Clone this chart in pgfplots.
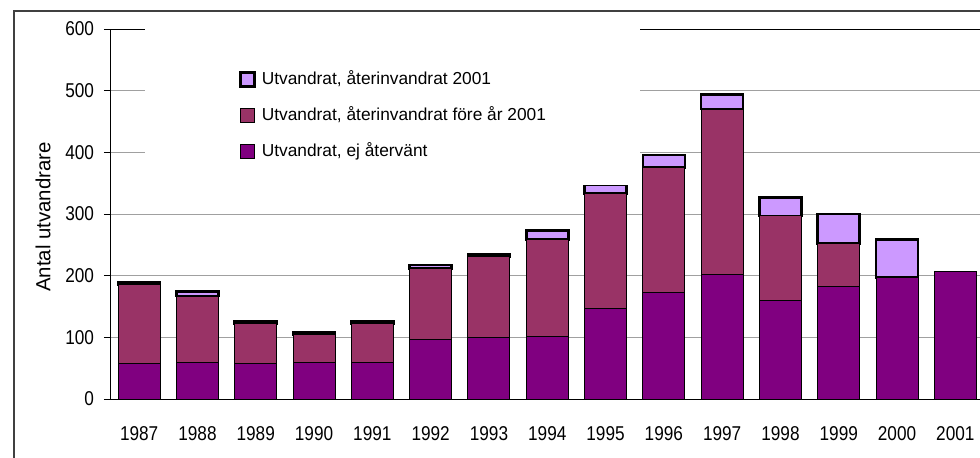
\documentclass[border=0pt]{standalone}
\usepackage{pgfplots}
\pgfplotsset{compat=1.18}
\usepackage{fontspec}
\setmainfont{Liberation Sans}
\newfontfamily\tickfont[FakeStretch=0.86]{Liberation Sans}
\definecolor{ej}{HTML}{800080}
\definecolor{fore}{HTML}{993366}
\definecolor{aar}{HTML}{CC99FF}
\definecolor{gridc}{HTML}{A0A0A0}
\definecolor{framec}{HTML}{404040}
\begin{document}
\begin{tikzpicture}[x=0.75pt,y=0.75pt]
\useasboundingbox (0,0) rectangle (980,457);
\clip (0,0) rectangle (980,457);
\fill[white] (0,0) rectangle (980,457);
\draw[framec, line width=1.5pt] (13.5,-20) -- (13.5,446.3) -- (1000,446.3);
\begin{axis}[
  scale only axis,
  width=655.875pt, height=277.5pt,
  at={(82.5pt,43.5pt)}, anchor=south west,
  ybar stacked, bar width=31.5pt,
  xmin=-0.5, xmax=14.5, ymin=0, ymax=600,
  clip=false,
  axis x line*=bottom, axis y line*=left,
  axis line style={-, black, line width=0.75pt},
  xtick={0,...,14},
  xticklabels={1987,1988,1989,1990,1991,1992,1993,1994,1995,1996,1997,1998,1999,2000,2001},
  xtick style={draw=none},
  ytick={0,100,...,600},
  ytick style={black, line width=0.75pt},
  tick align=outside, major tick length=4.5pt,
  ymajorgrids, major grid style={gridc, line width=0.75pt},
  /pgf/number format/assume math mode=true,
  tick label style={font=\tickfont\fontsize{15}{18}\selectfont},
  xticklabel style={yshift=-12.5pt},
  yticklabel style={xshift=-4pt},
  ylabel={Antal utvandrare},
  ylabel style={at={(axis description cs:-0.0766,0.492)}, anchor=center, font=\fontsize{15.3}{18}\selectfont},
  reverse legend,
  legend image code/.code={\draw[#1] (0pt,-5.25pt) rectangle (10.5pt,5.25pt);},
  legend style={draw=none, fill=none, at={(0.1475,0.887)}, anchor=north west,
    font=\fontsize{13}{15.6}\selectfont, inner sep=0pt, row sep=14pt,
    nodes={inner sep=0pt, text height=10pt, text depth=3pt},
    /tikz/every odd column/.append style={column sep=4.5pt}},
  legend cell align=left,
]
\fill[white] (axis cs:0.1,347) rectangle (axis cs:8.59,615);
\draw[black, line width=0.75pt] (axis cs:-0.5,600) -- (axis cs:0.1,600);
\draw[black, line width=0.75pt] (axis cs:8.59,600) -- (axis cs:14.5,600);
\addplot[fill=ej, draw=black, line width=0.75pt] coordinates {
(0,58) (1,60) (2,58) (3,59) (4,60) (5,97) (6,99) (7,102) (8,147) (9,172) (10,202) (11,159) (12,182) (13,197) (14,207)};
\addlegendentry{Utvandrat, ej återvänt}
\addplot[fill=fore, draw=black, line width=0.75pt] coordinates {
(0,128) (1,107) (2,64) (3,45) (4,62) (5,115) (6,132) (7,157) (8,186) (9,203) (10,268) (11,138) (12,70) (13,0) (14,0)};
\addlegendentry{Utvandrat, återinvandrat före år 2001}
\addplot[fill=aar, draw=black, line width=1.9pt] coordinates {
(0,3) (1,7) (2,4) (3,4) (4,4) (5,5) (6,4) (7,14) (8,15) (9,21) (10,24) (11,30) (12,48) (13,62)};
\addlegendentry{Utvandrat, återinvandrat 2001}
\end{axis}
\end{tikzpicture}
\end{document}
